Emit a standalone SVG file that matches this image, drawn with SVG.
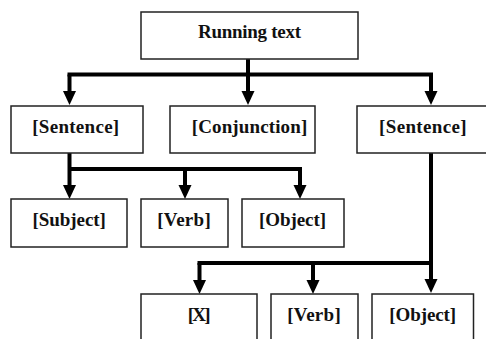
<svg xmlns="http://www.w3.org/2000/svg" width="486" height="339" viewBox="0 0 486 339">
  <style>
    .box { fill: #ffffff; stroke: #222222; stroke-width: 1.5; }
    .lbl { font-family: "Liberation Serif", "Times New Roman", serif; font-weight: bold; font-size: 19px; fill: #111111; text-anchor: middle; }
    .conn { fill: none; stroke: #000000; stroke-width: 4; stroke-linejoin: miter; }
    .arr { marker-end: url(#ah); }
  </style>
  <defs>
    <marker id="ah" markerUnits="userSpaceOnUse" markerWidth="15" markerHeight="14" refX="4" refY="6.5" orient="auto">
      <path d="M0,0 L14,6.5 L0,13 Z" fill="#000000"/>
    </marker>
  </defs>
  <rect width="486" height="339" fill="#ffffff"/>

  <g id="connectors">
    <path class="conn" d="M248,59 V74.5"/>
    <path class="conn arr" d="M69.5,74.5 V95"/>
    <path class="conn" d="M67.5,74.5 H433"/>
    <path class="conn arr" d="M248,74.5 V95"/>
    <path class="conn arr" d="M431,74.5 V95"/>

    <path class="conn arr" d="M69.5,153 V189"/>
    <path class="conn" d="M69.5,169 H302"/>
    <path class="conn arr" d="M185,169 V189"/>
    <path class="conn arr" d="M300,169 V189"/>

    <path class="conn arr" d="M431,153 V283"/>
    <path class="conn" d="M197.5,263 H431"/>
    <path class="conn arr" d="M199.5,263 V284"/>
    <path class="conn arr" d="M313,263 V284"/>
  </g>

  <g id="n-running">
    <rect class="box" x="141" y="12" width="217" height="47"/>
    <text class="lbl" x="249.5" y="38" font-size="18.5" textLength="103">Running text</text>
  </g>
  <g id="n-sentence1">
    <rect class="box" x="11" y="106" width="132" height="47"/>
    <text class="lbl" x="75.7" y="133" textLength="87">[Sentence]</text>
  </g>
  <g id="n-conjunction">
    <rect class="box" x="170" y="106" width="145" height="47"/>
    <text class="lbl" x="249.5" y="133" textLength="115.5">[Conjunction]</text>
  </g>
  <g id="n-sentence2">
    <rect class="box" x="357" y="106" width="133" height="47"/>
    <text class="lbl" x="422.8" y="133" textLength="87.5">[Sentence]</text>
  </g>
  <g id="n-subject">
    <rect class="box" x="11" y="199" width="116" height="48"/>
    <text class="lbl" x="69.2" y="226" textLength="73.5">[Subject]</text>
  </g>
  <g id="n-verb1">
    <rect class="box" x="141" y="199" width="87" height="48"/>
    <text class="lbl" x="184" y="226" textLength="53.5">[Verb]</text>
  </g>
  <g id="n-object1">
    <rect class="box" x="242" y="199" width="102" height="48"/>
    <text class="lbl" x="292.5" y="226" textLength="67">[Object]</text>
  </g>
  <g id="n-x">
    <rect class="box" x="141" y="294" width="116" height="60"/>
    <text class="lbl" x="199.2" y="321" textLength="23">[X]</text>
  </g>
  <g id="n-verb2">
    <rect class="box" x="271" y="294" width="87" height="60"/>
    <text class="lbl" x="314" y="321" textLength="53.5">[Verb]</text>
  </g>
  <g id="n-object2">
    <rect class="box" x="372" y="294" width="101.5" height="60"/>
    <text class="lbl" x="422.7" y="321" textLength="67">[Object]</text>
  </g>
</svg>
